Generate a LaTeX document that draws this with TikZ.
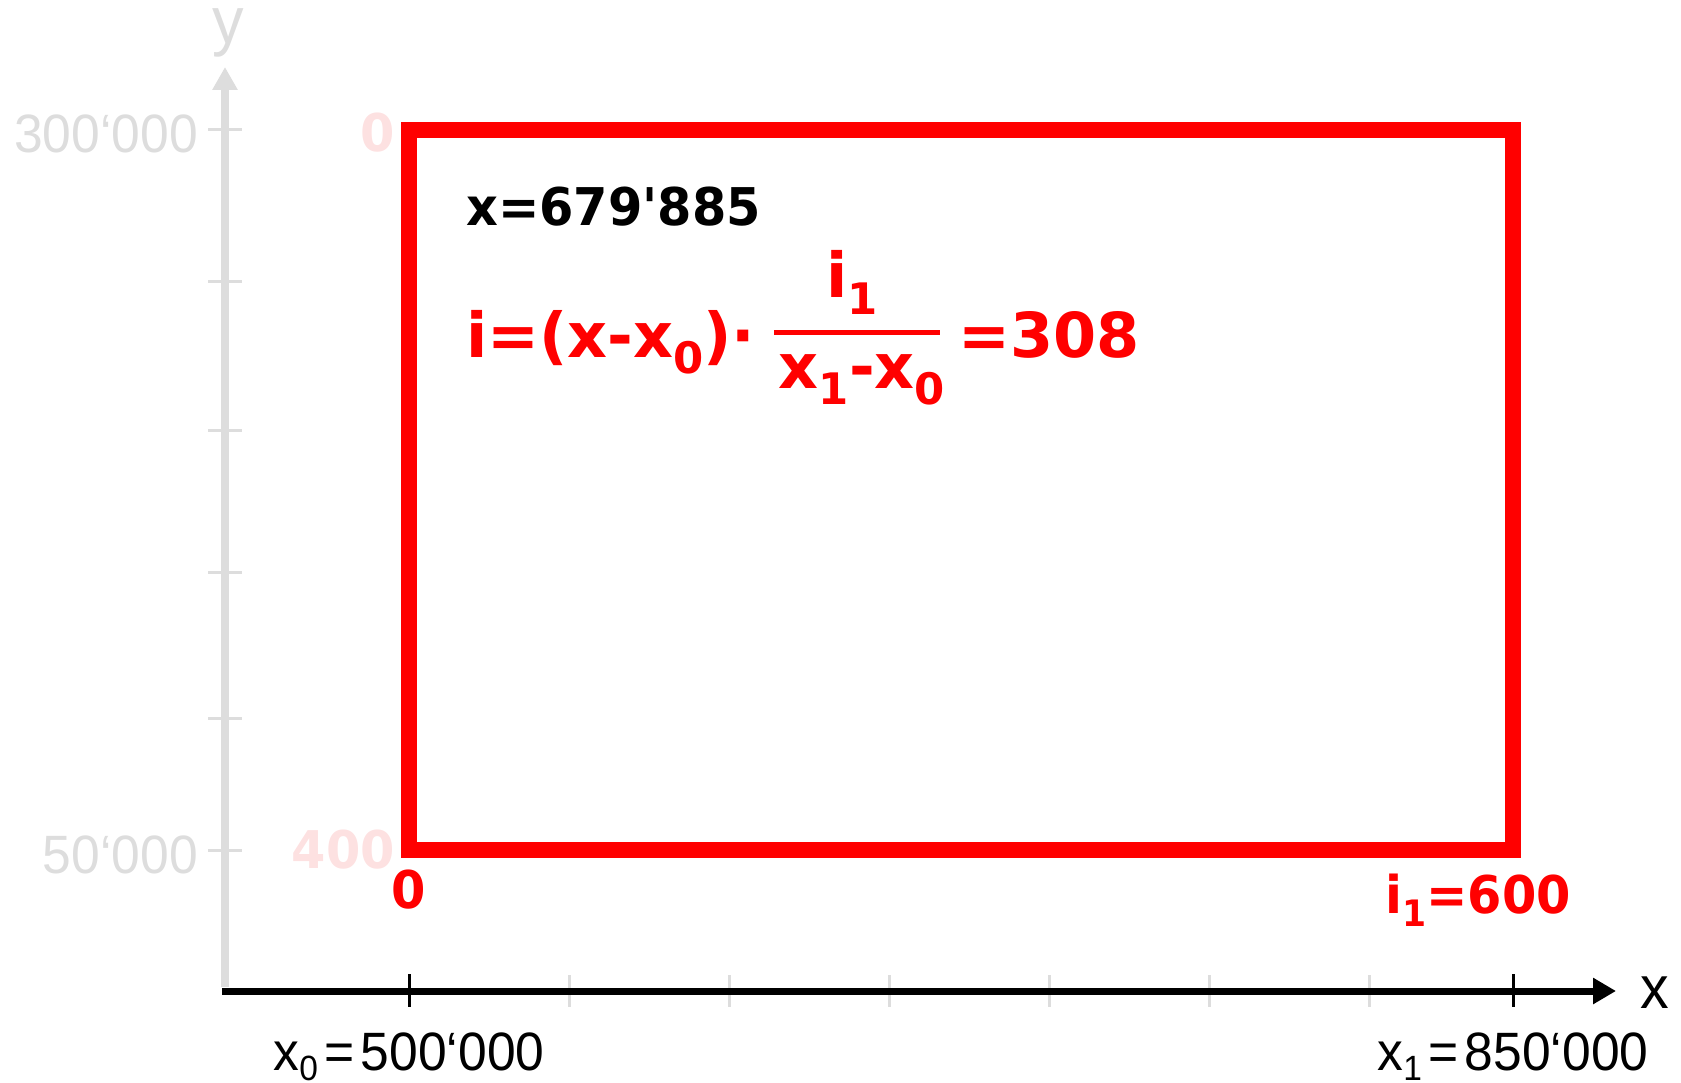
\documentclass[tikz,border=0pt]{standalone}
\usepackage{fontspec}
\setmainfont{Liberation Sans}[FakeStretch=0.955]
\newfontfamily\lblfont{DejaVu Sans}[Ligatures=TeXOff,FakeStretch=0.95]
\newfontfamily\eqfont{DejaVu Sans}[Ligatures=TeXOff]
\usetikzlibrary{arrows.meta}
\definecolor{axisgray}{RGB}{221,221,221}
\definecolor{idxred}{RGB}{255,0,0}
\definecolor{palered}{RGB}{253,225,225}
\tikzset{
  % axes
  xaxis/.style={line width=7pt,black,-{Triangle[length=23pt,width=25pt]}},
  yaxis/.style={line width=8pt,axisgray,-{Triangle[length=23pt,width=24pt]}},
  ytick/.style={line width=3pt,axisgray},
  xmajor/.style={line width=3pt,black},
  xminor/.style={line width=3pt,axisgray},
  % labels
  coordlbl/.style={inner sep=0pt,text=axisgray,font=\fontsize{54}{54}\selectfont},
  xlbl/.style={inner sep=0pt,font=\fontsize{54}{54}\selectfont},
  axislbl/.style={inner sep=0pt,font=\fontsize{60}{60}\selectfont},
  idxlbl/.style={inner sep=0pt,text=idxred,font=\lblfont\bfseries\fontsize{52}{52}\selectfont},
  palelbl/.style={idxlbl,text=palered},
  formula/.style={inner sep=0pt,text=idxred,font=\eqfont\bfseries\fontsize{62}{62}\selectfont},
  % index range
  idxbox/.style={draw=idxred,line width=16pt},
  fracbar/.style={draw=idxred,line width=5pt},
}
\newcommand{\subidx}[1]{\raisebox{-0.26em}{\scalebox{0.7}{#1}}}
\newcommand{\subaxis}[1]{\raisebox{-0.2em}{\scalebox{0.65}{#1}}}

\begin{document}
\begin{tikzpicture}[x=1pt,y=-1pt]
\useasboundingbox (0,0) rectangle (1681,1083);
% axes
\coordinate (ybot) at (225,987);
\coordinate (ytop) at (225,67);
\coordinate (xleft) at (222,991);
\coordinate (xright) at (1616,991);
\draw[yaxis] (ybot) -- (ytop);
\foreach \ty in {130,282,430,572,718,850}
  \draw[ytick] (208,\ty) -- (242,\ty);
\foreach \tx in {569,729,...,1369}
  \draw[xminor] (\tx,975) -- (\tx,1007);
\draw[xaxis] (xleft) -- (xright);
\foreach \tx in {409,1513}
  \draw[xmajor] (\tx,974) -- (\tx,1007);
\node[axislbl,text=axisgray,font=\fontsize{66}{66}\selectfont,anchor=base] (ylab) at (228,44) {y};
\node[axislbl,anchor=base] (xlab) at (1655,1008) {x};
\node[coordlbl,anchor=base east] (ymax) at (198,153) {300‘000};
\node[coordlbl,anchor=base east] (ymin) at (198,873) {50‘000};
\node[xlbl,anchor=base] (xmin) at (409,1070) {x\subaxis{0}\hspace{0.12em}=\hspace{0.12em}500‘000};
\node[xlbl,anchor=base] (xmax) at (1513,1070) {x\subaxis{1}\hspace{0.12em}=\hspace{0.12em}850‘000};
% index range
\draw[idxbox] (409,130) rectangle (1513,850);
\node[palelbl,anchor=base east] (rowtop) at (395,152) {0};
\node[palelbl,anchor=base east] (rowbot) at (395,868) {400};
\node[idxlbl,anchor=base] (colmin) at (409,908) {0};
\node[idxlbl,anchor=base] (colmax) at (1478,913) {i\subidx{1}=600};
% worked example
\node[idxlbl,text=black,anchor=base west] (xval) at (466,226) {x=679'885};
\node[formula,anchor=base west] (lhs) at (466,357) {i=(x-x\subidx{0})·};
\node[formula,anchor=base] (num) at (852,298) {i\subidx{1}};
\node[formula,anchor=base] (den) at (862,388) {x\subidx{1}-x\subidx{0}};
\coordinate (barL) at (774,332);
\coordinate (barR) at (940,332);
\draw[fracbar] (barL) -- (barR);
\node[formula,anchor=base west] (res) at (958,357) {=308};
\end{tikzpicture}
\end{document}
